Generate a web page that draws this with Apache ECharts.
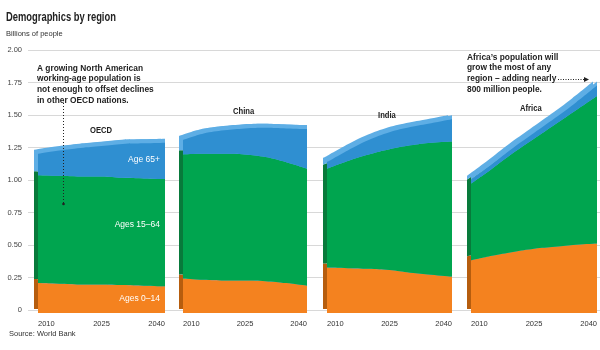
<!DOCTYPE html>
<html>
<head>
<meta charset="utf-8">
<title>Demographics by region</title>
<script src="https://cdn.jsdelivr.net/npm/echarts@6.0.0/dist/echarts.min.js"></script>
<style>
	html, body { margin: 0; padding: 0; background: #fff; }
	#chart { width: 600px; height: 350px; }
</style>
</head>
<body>
<div id="chart"></div>
<script>
// billions of people
var years = ['2010', '2015', '2020', '2025', '2030', '2035', '2040'];
var yTicks = [0, 0.25, 0.5, 0.75, 1, 1.25, 1.5, 1.75, 2];

var oecdYoung   = [0.23, 0.225, 0.22, 0.22, 0.215, 0.21, 0.205];
var oecdWorking = [0.83, 0.83, 0.83, 0.83, 0.825, 0.825, 0.825];
var oecdOld     = [0.165, 0.195, 0.22, 0.235, 0.26, 0.27, 0.28];

var chinaYoung   = [0.265, 0.255, 0.25, 0.25, 0.245, 0.23, 0.21];
var chinaWorking = [0.955, 0.97, 0.975, 0.97, 0.955, 0.93, 0.90];
var chinaOld     = [0.11, 0.155, 0.18, 0.20, 0.225, 0.26, 0.305];

var indiaYoung   = [0.35, 0.345, 0.34, 0.33, 0.31, 0.295, 0.28];
var indiaWorking = [0.76, 0.825, 0.88, 0.93, 0.98, 1.015, 1.04];
var indiaOld     = [0.05, 0.08, 0.11, 0.13, 0.14, 0.15, 0.17];

var africaYoung   = [0.405, 0.44, 0.47, 0.495, 0.51, 0.525, 0.535];
var africaWorking = [0.59, 0.67, 0.76, 0.845, 0.94, 1.035, 1.135];
var africaOld     = [0.03, 0.035, 0.04, 0.045, 0.05, 0.06, 0.08];

var regions = ['OECD', 'China', 'India', 'Africa'];
var groups = ['Ages 0–14', 'Ages 15–64', 'Age 65+'];
var regionData = [
	[oecdYoung, oecdWorking, oecdOld],
	[chinaYoung, chinaWorking, chinaOld],
	[indiaYoung, indiaWorking, indiaOld],
	[africaYoung, africaWorking, africaOld]
];

var fronts = ['#f4821f', '#00a54f', '#2f8fd1'];
var backs  = ['#b65d0e', '#087a3b', '#5eaee5'];
var topFace = '#5eaee5';
var panelLeft  = [38, 183, 327, 471];
var panelRight = [435, 293, 148, 3];
var DEPTH = 4;

var SANS = '"Liberation Sans", Arial, sans-serif';

var grid = [{ left: 28, right: 0, top: 50, height: 260 }];
var xAxis = [{ gridIndex: 0, type: 'category', data: years, show: false }];
var yAxis = [{
	gridIndex: 0, type: 'value', min: 0, max: 2, interval: 0.25,
	axisLine: { show: false }, axisTick: { show: false },
	axisLabel: {
		fontSize: 7.5, color: '#444', fontFamily: SANS, margin: 6,
		formatter: function(v) { return v == 0 ? '0' : v.toFixed(2); }
	},
	splitLine: { lineStyle: { color: '#d8d8d8', width: 1 } }
}];
var series = [];

function addGrid(r, dx, dy, showLabels) {
	var gi = grid.length;
	grid.push({ left: panelLeft[r] - dx, right: panelRight[r] + dx, top: 53 - dy, height: 260 });
	xAxis.push({
		gridIndex: gi, type: 'category', data: years, boundaryGap: false,
		show: showLabels,
		axisLine: { show: false }, axisTick: { show: false }, splitLine: { show: false },
		axisLabel: {
			interval: 2, fontSize: 7.5, color: '#333', fontFamily: SANS, margin: 7,
			alignMinLabel: 'left', alignMaxLabel: 'right'
		}
	});
	yAxis.push({ gridIndex: gi, type: 'value', min: 0, max: 2, show: false });
	return gi;
}

function area(name, stack, gi, color, z, data) {
	return {
		name: name, type: 'line', stack: stack,
		xAxisIndex: gi, yAxisIndex: gi,
		smooth: 0.4, symbol: 'none', silent: true, clip: false, z: z,
		lineStyle: { width: 0, opacity: 0 },
		areaStyle: { color: color, opacity: 1 },
		data: data
	};
}

for (var r = 0; r < regions.length; r++) {
	var d = regionData[r];
	// back face, shifted up-left: gives the side strip
	var gb = addGrid(r, DEPTH, DEPTH, false);
	for (var g = 0; g < 3; g++) {
		series.push(area(regions[r] + ' back ' + g, regions[r] + '-back', gb, backs[g], 1, d[g]));
	}
	// top face, shifted straight up
	var gt = addGrid(r, 0, DEPTH, false);
	for (var g = 0; g < 3; g++) {
		series.push(area(regions[r] + ' top ' + g, regions[r] + '-top', gt, topFace, 1, d[g]));
	}
	// front face
	var gf = addGrid(r, 0, 0, true);
	for (var g = 0; g < 3; g++) {
		series.push(area(regions[r] + ' ' + groups[g], regions[r], gf, fronts[g], 2, d[g]));
	}
}

function txt(x, y, s, size, weight, color, sx) {
	return {
		type: 'text', x: x, y: y, scaleX: sx || 1, silent: true, z: 100,
		style: {
			text: s, fontSize: size, fontWeight: weight || 'normal',
			fill: color || '#222', fontFamily: SANS, lineHeight: size + 1.6
		}
	};
}

function whiteLabel(y, s) {
	return {
		type: 'text', x: 160, y: y, silent: true, z: 100,
		style: { text: s, fontSize: 8.5, fill: '#fff', fontFamily: SANS, align: 'right' }
	};
}

var graphic = [
	txt(6, 10, 'Demographics by region', 12.5, 'bold', '#222', 0.75),
	txt(6, 29, 'Billions of people', 7.5, 'normal', '#333'),
	txt(9, 329, 'Source: World Bank', 7.5, 'normal', '#333'),
	txt(37, 63, 'A growing North American\nworking-age population is\nnot enough to offset declines\nin other OECD nations.', 9, 'bold', '#222', 0.93),
	txt(467, 52, 'Africa\u2019s population will\ngrow the most of any\nregion \u2013 adding nearly\n800 million people.', 9, 'bold', '#222', 0.93),
	txt(90, 126, 'OECD', 8.5, 'bold', '#222', 0.9),
	txt(233, 107, 'China', 8.5, 'bold', '#222', 0.9),
	txt(378, 111, 'India', 8.5, 'bold', '#222', 0.9),
	txt(520, 104, 'Africa', 8.5, 'bold', '#222', 0.9),
	whiteLabel(155, 'Age 65+'),
	whiteLabel(220, 'Ages 15–64'),
	whiteLabel(294, 'Ages 0–14'),
	{
		type: 'line', silent: true, z: 100,
		shape: { x1: 63.5, y1: 103, x2: 63.5, y2: 203 },
		style: { stroke: '#222', lineWidth: 1, lineDash: [1, 2] }
	},
	{
		type: 'circle', silent: true, z: 100,
		shape: { cx: 63.5, cy: 204, r: 1.3 },
		style: { fill: '#222' }
	},
	{
		type: 'line', silent: true, z: 100,
		shape: { x1: 558, y1: 79.5, x2: 585, y2: 79.5 },
		style: { stroke: '#222', lineWidth: 1, lineDash: [1, 1.5] }
	},
	{
		type: 'polygon', silent: true, z: 100,
		shape: { points: [[584, 77], [589, 79.5], [584, 82]] },
		style: { fill: '#222' }
	}
];

var option = {
	animation: false,
	backgroundColor: '#fff',
	grid: grid,
	xAxis: xAxis,
	yAxis: yAxis,
	series: series,
	graphic: graphic
};

var chart = echarts.init(document.getElementById('chart'), null, { renderer: 'canvas' });
chart.setOption(option);
</script>
</body>
</html>
